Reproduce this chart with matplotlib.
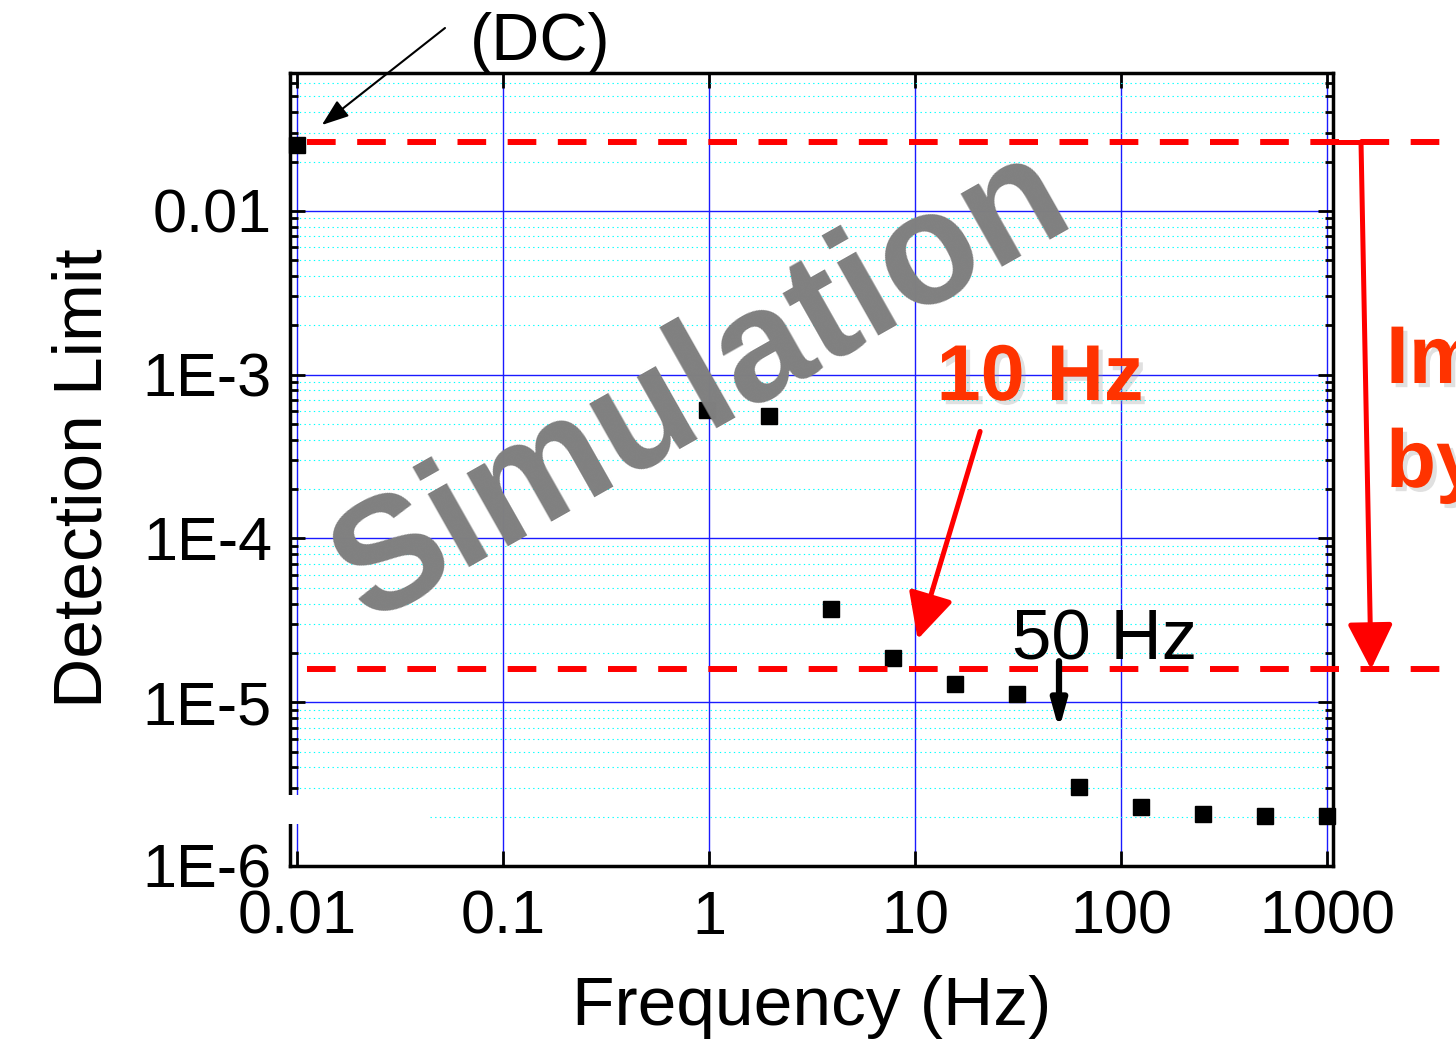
import numpy as np
import matplotlib
matplotlib.use('Agg')
from matplotlib import pyplot as plt
from matplotlib import patheffects as pe
from matplotlib.patches import Rectangle
from matplotlib.ticker import FixedLocator, NullFormatter

plt.rcParams['font.family'] = ['Liberation Sans', 'DejaVu Sans']

# simulated detection limit vs. modulation frequency (first point = DC)
freq = [0.01, 0.9766, 1.953, 3.906, 7.8125, 15.625, 31.25, 62.5, 125, 250, 500, 1000]
limit = [2.53e-2, 6.1e-4, 5.55e-4, 3.7e-5, 1.85e-5, 1.29e-5, 1.12e-5,
         3.03e-6, 2.29e-6, 2.07e-6, 2.02e-6, 2.02e-6]
dc_level = 2.63e-2
best_level = 1.59e-5

xticks = [0.01, 0.1, 1, 10, 100, 1000]
xticklabels = ['0.01', '0.1', '1', '10', '100', '1000']
yticks = [1e-6, 1e-5, 1e-4, 1e-3, 1e-2]
yticklabels = ['1E-6', '1E-5', '1E-4', '1E-3', '0.01']

W, H = 1456, 1051


def fpos(x, y):
    # pixel position (from top-left) -> figure fraction
    return (x / W, 1 - y / H)


fig = plt.figure(figsize=(W / 100, H / 100), dpi=100)
ax = fig.add_axes([290 / W, 1 - 866 / H, (1333 - 290) / W, (866 - 73) / H])
ax.set_xscale('log')
ax.set_yscale('log')
ax.set_xlim(0.00925, 1069)
ax.set_ylim(1e-6, 0.0694)

ax.set_axisbelow(True)
ax.grid(which='minor', color='#00ffff', ls=(0, (1.2, 3)), lw=0.8)
ax.grid(which='major', color='#1a1aff', lw=1.0)

ax.xaxis.set_major_locator(FixedLocator(xticks))
ax.set_xticklabels(xticklabels)
ax.yaxis.set_major_locator(FixedLocator(yticks))
ax.set_yticklabels(yticklabels)
ax.xaxis.set_minor_formatter(NullFormatter())
ax.yaxis.set_minor_formatter(NullFormatter())
ax.tick_params(which='both', direction='in', top=True, right=True, width=2, color='black')
ax.tick_params(which='major', length=10.5)
ax.tick_params(which='minor', length=6)
ax.tick_params(axis='x', labelsize=44, pad=17)
ax.tick_params(axis='y', labelsize=44, pad=13)
for s in ax.spines.values():
    s.set_linewidth(2.5)

# data points
ax.plot(freq, limit, 's', color='black', ms=12, clip_on=False, zorder=3)

# DC level and best level
red = '#ff0000'
ax.plot([0.0112, 4500], [dc_level, dc_level], color=red, lw=4.3, dashes=(4.8, 3.6),
        clip_on=False, zorder=4)
ax.plot([0.0112, 4500], [best_level, best_level], color=red, lw=4.3, dashes=(4.8, 3.6),
        clip_on=False, zorder=4)
ax.plot([1069, 1462], [dc_level, dc_level], color=red, lw=3.6, clip_on=False, zorder=4)
ax.annotate('', xy=(1636, best_level), xytext=(1462, dc_level), annotation_clip=False,
            arrowprops=dict(arrowstyle='-|>,head_length=0.7,head_width=0.35', color=red,
                            lw=3.6, shrinkA=0, shrinkB=0, mutation_scale=40), zorder=4)

# annotations
ax.annotate('', xy=(10.3, 2.42e-5), xytext=(20.7, 4.5e-4), annotation_clip=False,
            arrowprops=dict(arrowstyle='-|>,head_length=0.7,head_width=0.35', color=red,
                            lw=3.6, shrinkA=0, shrinkB=0, mutation_scale=40), zorder=6)
ax.annotate('', xy=(50, 6.8e-6), xytext=(50, 1.78e-5), annotation_clip=False,
            arrowprops=dict(arrowstyle='-|>,head_length=0.9,head_width=0.25', color='black',
                            lw=4.5, shrinkA=0, shrinkB=0, mutation_scale=18), zorder=6)
ax.annotate('', xy=(0.0132, 0.0334), xycoords='data', xytext=fpos(445, 28),
            textcoords='figure fraction', annotation_clip=False,
            arrowprops=dict(arrowstyle='-|>,head_length=0.55,head_width=0.2', color='black',
                            lw=1.5, shrinkA=0, shrinkB=0, mutation_scale=30), zorder=6)

shadow = [pe.SimplePatchShadow(offset=(3, -3), shadow_rgbFace='#999999', alpha=0.3), pe.Normal()]

fig.text(*fpos(540, 60), '(DC)', fontsize=48, ha='center', va='baseline')
fig.text(*fpos(1012, 660), '50 Hz', fontsize=51, ha='left', va='baseline', zorder=6)
fig.text(*fpos(1040, 400), '10 Hz', fontsize=57, fontweight='bold', color='#ff3300',
         ha='center', va='baseline', zorder=6, path_effects=shadow)
for txt, yb in [('Im', 383), ('by', 487)]:
    fig.text(*fpos(1386, yb), txt, fontsize=59, fontweight='bold', color='#ff3300',
             ha='left', va='baseline', path_effects=shadow)

fig.text(*fpos(702, 386), 'Simulation', fontsize=115, fontweight='bold', color='#808080',
         rotation=29.5, rotation_mode='anchor', ha='center', va='center', zorder=5)

fig.text(*fpos(812, 1025), 'Frequency (Hz)', fontsize=50, ha='center', va='baseline')
fig.text(*fpos(102, 478), 'Detection Limit', fontsize=50, rotation=90,
         rotation_mode='anchor', ha='center', va='baseline')

# blank strip over the lower left corner
fig.patches.append(Rectangle(fpos(283, 824), (430 - 283) / W, (824 - 795) / H,
                             transform=fig.transFigure, facecolor='white',
                             edgecolor='none', zorder=10))

fig.savefig('out.png', dpi=100)
